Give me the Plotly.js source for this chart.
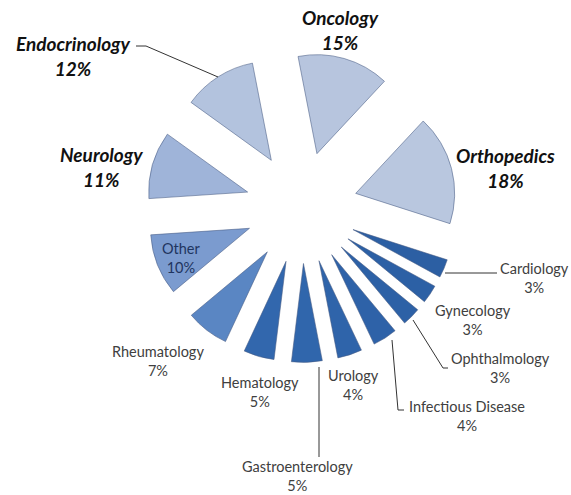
<!DOCTYPE html>
<html>
<head>
<meta charset="utf-8">
<script src="https://cdn.plot.ly/plotly-3.0.1.min.js"></script>
<style>html,body{margin:0;padding:0;background:#fff}#chart{width:571px;height:495px}</style>
</head>
<body>
<div id="chart"></div>
<script>
// ---- data ----
var categories = ['Oncology','Orthopedics','Cardiology','Gynecology','Ophthalmology','Infectious Disease','Urology','Gastroenterology','Hematology','Rheumatology','Other','Neurology','Endocrinology'];
var shares = [15,18,3,3,3,4,4,5,5,7,10,11,12];
var sliceColors = ['#b7c5de','#b9c7df','#2c5fa3','#2c60a5','#2d61a6','#2e62a8','#2f64aa','#3066ac','#3267ad','#5a86c3','#7b9bcf','#9fb4d9','#b3c3de'];

// ---- layout helpers (pixel -> paper) ----
var W = 571, H = 495;
function px(x){return x/W;}
function py(y){return 1 - y/H;}

// label anchors (centre of text block) and styles
var labelPos = {
  'Oncology':[340,30],'Orthopedics':[505,168],'Endocrinology':[73,56],'Neurology':[101,167],
  'Other':[181,258],'Rheumatology':[158,361],'Hematology':[260,392],'Urology':[353,385],
  'Gastroenterology':[297,476],'Cardiology':[534,278],'Gynecology':[473,320],
  'Ophthalmology':[500,368],'Infectious Disease':[467,416]
};
var bigOnes = ['Oncology','Orthopedics','Endocrinology','Neurology'];

var annotations = categories.map(function(c,i){
  var big = bigOnes.indexOf(c) >= 0;
  var txt = c + '<br>' + shares[i] + '%';
  if (big) txt = '<b><i>' + c + '</i></b><br><b><i>' + shares[i] + '%</i></b>';
  return {
    xref:'paper', yref:'paper', x:px(labelPos[c][0]), y:py(labelPos[c][1]),
    xanchor:'center', yanchor:'middle', showarrow:false, text:txt,
    font:{family:'Lato, "Open Sans", sans-serif', size: big ? 19 : 14.5,
          color: big ? '#111111' : (c === 'Other' ? '#1f3560' : '#404040')}
  };
});

function pathFrom(pts){
  return 'M' + pts.map(function(p){return px(p[0]) + ',' + py(p[1]);}).join(' L');
}
var leaderPaths = [
  [[136,46],[146,46],[218,77]],
  [[445,273],[497,273]],
  [[413,320],[443,368],[448,368]],
  [[392,340],[398,410],[404,410]],
  [[319,367],[319,457]]
];
var shapes = leaderPaths.map(function(p){
  return {type:'path', xref:'paper', yref:'paper', path:pathFrom(p), line:{color:'#333333', width:1}};
});

var trace = {
  type:'pie', labels:categories, values:shares, sort:false, direction:'clockwise', rotation:-11,
  pull: categories.map(function(){return 0.566;}),
  marker:{colors:sliceColors, line:{color:'rgba(70,90,130,0.55)', width:1}},
  textinfo:'none', hoverinfo:'label+percent',
  domain:{x:[px(146.5), px(456.5)], y:[py(362.5), py(52.5)]}
};

var layout = {
  width:W, height:H, margin:{l:0,r:0,t:0,b:0}, showlegend:false,
  paper_bgcolor:'#ffffff', plot_bgcolor:'#ffffff',
  annotations:annotations, shapes:shapes
};
Plotly.newPlot('chart',[trace],layout,{staticPlot:true});
</script>
</body>
</html>
